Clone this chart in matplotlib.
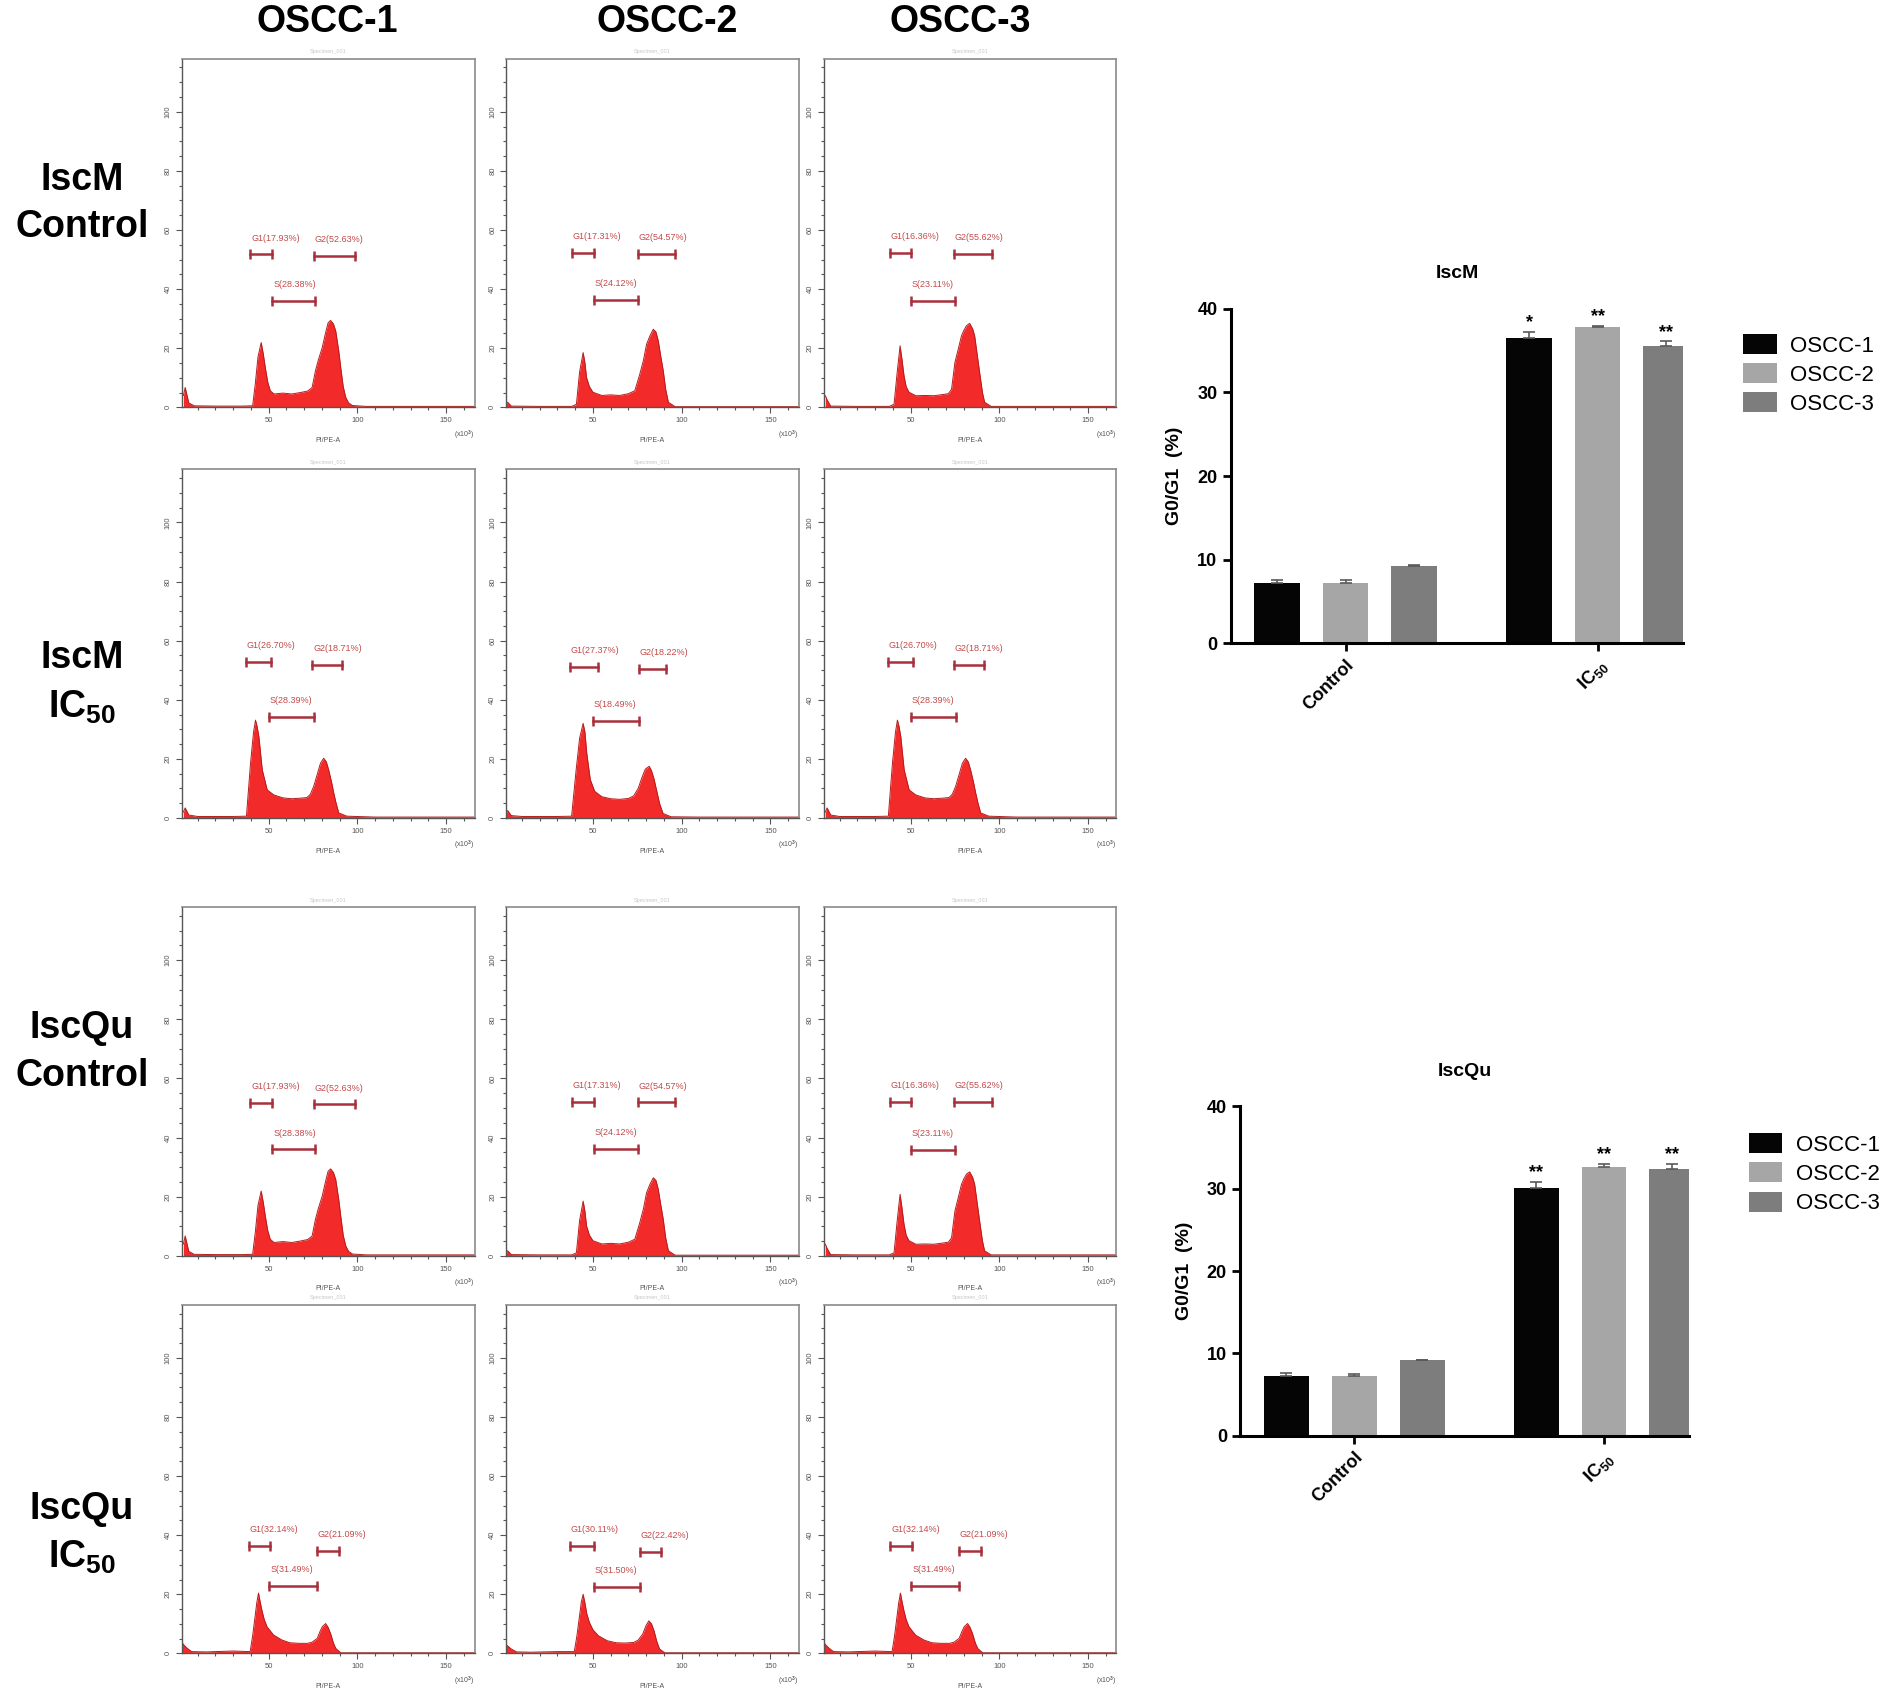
import matplotlib
matplotlib.use("Agg")
import matplotlib.pyplot as plt
from matplotlib.ticker import MultipleLocator
from matplotlib.patches import Patch

plt.rcParams['font.family'] = ['Liberation Sans', 'DejaVu Sans']
plt.rcParams['mathtext.fontset'] = 'custom'
plt.rcParams['mathtext.rm'] = 'Liberation Sans:bold'
plt.rcParams['mathtext.bf'] = 'Liberation Sans:bold'
plt.rcParams['mathtext.default'] = 'rm'

# ---- histogram outlines (PI/PE-A x10^3, counts) ----
# IscM / IscQu control (rows 1 and 3 are the same images)
ctrl1_x = [2, 3, 5, 8, 20, 35, 41, 42.5, 44, 45.8, 47, 48.1, 49.5, 50.9, 53, 58, 63, 68, 72, 74.5,
           76.4, 78, 80.2, 82, 83.5, 84.9, 86.5, 87.8, 89.5, 90.6, 92, 93.4, 95, 97.2, 105, 130, 166]
ctrl1_y = [4, 6.7, 1.5, 0.5, 0.4, 0.4, 0.5, 8, 17, 21.9, 18, 13.5, 8.5, 5.6, 4.5, 4.8, 4.5, 5.0, 5.5, 6.7,
           12.4, 16, 20.2, 25, 28.6, 29.4, 28.2, 25.8, 19, 13.5, 7, 3.4, 1.5, 0.6, 0.3, 0.3, 0.3]
ctrl2_x = [1, 2, 4, 20, 38, 40.7, 42.5, 44.5, 45.5, 46.4, 48, 50, 55, 60, 65, 70, 73.6, 76.4, 78.5,
           80.2, 82, 84, 85.5, 86.8, 88, 89.6, 91, 92.5, 96.3, 110, 166]
ctrl2_y = [1, 1.7, 0.4, 0.3, 0.3, 1, 12, 18.5, 15, 10.1, 7, 5.1, 4.0, 4.2, 4.0, 4.6, 5.6, 11.2, 16,
           21.3, 24, 26.4, 25.5, 22.5, 18, 12.4, 6, 1.7, 0.2, 0.2, 0.2]
ctrl3_x = [2, 3, 5, 20, 38, 40.7, 42.5, 44.1, 45.2, 46.3, 47.5, 49.1, 53, 58, 63, 68, 71.3, 73.1, 75,
           77, 78.7, 80, 81.5, 83.3, 85, 86.1, 87.5, 88.9, 90.5, 91.7, 95.4, 110, 166]
ctrl3_y = [3.9, 2.5, 0.4, 0.3, 0.3, 1, 12, 20.8, 16, 10.7, 7, 5.1, 3.9, 4.0, 3.9, 4.3, 4.6, 6.1, 15.2,
           20, 24.2, 26, 27.6, 28.4, 26.5, 24.2, 18, 11.8, 5, 1.7, 0.3, 0.3, 0.3]
# IscM IC50 (OSCC-3 panel is the same image as OSCC-1)
ic1_x = [2, 3, 5, 10, 30, 37.5, 39.8, 41.5, 42.6, 43.5, 44.5, 46.4, 49.2, 52.9, 58, 63, 68, 71.6, 73.5,
         75.4, 77.5, 79.2, 81, 82.5, 83.8, 85.5, 86.7, 88, 89.5, 94.1, 110, 166]
ic1_y = [2, 3.4, 1, 0.5, 0.5, 0.6, 18.5, 29, 33.1, 31, 27.5, 16.3, 9.5, 7.8, 6.8, 6.5, 6.7, 6.9, 8,
         10.7, 15, 18.5, 20.2, 19, 16.3, 12, 8.4, 5, 1.7, 0.6, 0.3, 0.3]
ic2_x = [1, 2, 4, 10, 30, 38, 40.5, 42.5, 44.5, 45.5, 46.5, 48.5, 51, 55, 60, 65, 70, 73, 75.5, 77.5,
         79.5, 81.7, 83, 84.5, 86, 87.5, 89.5, 94, 110, 166]
ic2_y = [1.5, 2.5, 0.8, 0.5, 0.5, 0.6, 16, 27, 32, 29, 22, 13, 9, 7.2, 6.5, 6.3, 6.6, 7.5, 10, 13.5,
         16.5, 17.5, 16, 13, 9, 5, 1.5, 0.4, 0.3, 0.3]
# IscQu IC50 (OSCC-3 panel is the same image as OSCC-1)
qu1_x = [1, 2, 4, 6.6, 15, 30, 39.6, 41, 42.1, 43.3, 44.3, 45.2, 46.2, 47.5, 49.1, 52.8, 57.6, 62, 67,
         72, 74.5, 77.4, 79, 80.2, 82.1, 83.5, 84.9, 86.5, 87.8, 90.6, 110, 166]
qu1_y = [3.9, 3, 1.8, 0.6, 0.5, 0.8, 0.6, 6, 11.2, 17, 20.4, 17.5, 14.6, 11.5, 9.0, 6.2, 4.5, 3.6, 3.4,
         3.4, 3.8, 5.1, 7.5, 9.0, 10.1, 8.8, 6.7, 3.5, 1.7, 0.2, 0.2, 0.2]
qu2_x = [1, 2, 4, 7, 15, 30, 39.5, 41, 42.3, 43.5, 44.5, 45.5, 46.5, 48, 50, 53, 58, 63, 68, 73, 75.5,
         78, 80, 81.5, 83, 84.5, 86, 87.5, 90.5, 110, 166]
qu2_y = [3, 2.5, 1.5, 0.5, 0.4, 0.6, 0.6, 6, 12, 17.5, 20, 17, 13.5, 10.5, 8, 6, 4.3, 3.6, 3.5, 3.7, 4.5,
         6.5, 9.5, 11, 10, 7.5, 4, 1.5, 0.2, 0.2, 0.2]

# gates (x start, x end, height) for G1, S, G2
ctrl_gates = [[(39.6, 52.0, 51.7), (52.0, 76.1, 36.0), (75.5, 98.7, 51.2)],
              [(38.2, 50.5, 52.2), (50.4, 75.2, 36.2), (75.2, 96.0, 51.9)],
              [(38.3, 50.4, 52.2), (50.0, 75.0, 35.9), (74.4, 95.7, 52.0)]]
ic_gates = [[(37.1, 51.2, 52.8), (50.0, 75.4, 34.2), (74.5, 91.4, 51.7)],
            [(37.0, 52.6, 51.0), (49.9, 75.7, 32.8), (75.7, 91.3, 50.4)],
            [(37.1, 51.2, 52.8), (50.0, 75.4, 34.2), (74.5, 91.4, 51.7)]]
qu_gates = [[(38.7, 51.0, 36.5), (50.4, 77.4, 22.7), (77.2, 89.7, 34.8)],
            [(37.0, 50.6, 36.5), (50.6, 76.4, 22.5), (76.4, 88.6, 34.4)],
            [(38.7, 51.0, 36.5), (50.4, 77.4, 22.7), (77.2, 89.7, 34.8)]]

ctrl_labels = [["G1(17.93%)", "S(28.38%)", "G2(52.63%)"],
               ["G1(17.31%)", "S(24.12%)", "G2(54.57%)"],
               ["G1(16.36%)", "S(23.11%)", "G2(55.62%)"]]
ic_labels = [["G1(26.70%)", "S(28.39%)", "G2(18.71%)"],
             ["G1(27.37%)", "S(18.49%)", "G2(18.22%)"],
             ["G1(26.70%)", "S(28.39%)", "G2(18.71%)"]]
qu_labels = [["G1(32.14%)", "S(31.49%)", "G2(21.09%)"],
             ["G1(30.11%)", "S(31.50%)", "G2(22.42%)"],
             ["G1(32.14%)", "S(31.49%)", "G2(21.09%)"]]

col_titles = ["OSCC-1", "OSCC-2", "OSCC-3"]
row_titles = [("IscM", "Control"), ("IscM", "IC$_{50}$"), ("IscQu", "Control"), ("IscQu", "IC$_{50}$")]

# ---- bar chart data: G0/G1 (%) ----
groups = ["Control", "IC$_{50}$"]
cell_lines = ["OSCC-1", "OSCC-2", "OSCC-3"]
iscm_ctrl = [7.2, 7.2, 9.2]
iscm_ctrl_err = [0.4, 0.4, 0.2]
iscm_ic50 = [36.5, 37.8, 35.5]
iscm_ic50_err = [0.7, 0.2, 0.6]
iscm_stars = ["*", "**", "**"]
iscqu_ctrl = [7.2, 7.2, 9.2]
iscqu_ctrl_err = [0.4, 0.3, 0.05]
iscqu_ic50 = [30.1, 32.7, 32.4]
iscqu_ic50_err = [0.7, 0.3, 0.6]
iscqu_stars = ["**", "**", "**"]

HIST_RED = '#f22a2a'
HIST_EDGE = '#b51b1b'
GATE_C = '#a8303c'
GATE_TXT = '#c24a4a'
BAR_COLORS = ['#050505', '#a6a6a6', '#7d7d7d']

fig = plt.figure(figsize=(19.02, 16.97), dpi=100)

col_left = [0.0955, 0.266, 0.433]
col_w = 0.154
row_bottom = [0.760, 0.518, 0.260, 0.0257]
row_h = 0.2055

panels = [
    [(ctrl1_x, ctrl1_y), (ctrl2_x, ctrl2_y), (ctrl3_x, ctrl3_y)],
    [(ic1_x, ic1_y), (ic2_x, ic2_y), (ic1_x, ic1_y)],
    [(ctrl1_x, ctrl1_y), (ctrl2_x, ctrl2_y), (ctrl3_x, ctrl3_y)],
    [(qu1_x, qu1_y), (qu2_x, qu2_y), (qu1_x, qu1_y)],
]
row_gates = [ctrl_gates, ic_gates, ctrl_gates, qu_gates]
row_labels = [ctrl_labels, ic_labels, ctrl_labels, qu_labels]

for r in range(4):
    for c in range(3):
        ax = fig.add_axes([col_left[c], row_bottom[r], col_w, row_h])
        xs, ys = panels[r][c]
        ax.fill_between(xs, ys, color=HIST_RED, lw=0)
        ax.plot(xs, ys, color=HIST_EDGE, lw=0.7)
        for (x0, x1, gy), lab in zip(row_gates[r][c], row_labels[r][c]):
            ax.plot([x0, x1], [gy, gy], color=GATE_C, lw=1.8, marker='|', ms=7, mew=1.8)
            ax.text(x0 + 0.5, gy + 4, lab, fontsize=6.5, color=GATE_TXT, ha='left', va='bottom')
        ax.set_xlim(1, 166)
        ax.set_ylim(0, 118)
        ax.set_xticks([50, 100, 150])
        ax.set_yticks([0, 20, 40, 60, 80, 100])
        ax.xaxis.set_minor_locator(MultipleLocator(10))
        ax.yaxis.set_minor_locator(MultipleLocator(5))
        ax.tick_params(which='both', direction='out', labelsize=5.5, colors='#555555',
                       width=0.8, pad=3)
        ax.tick_params(which='major', length=4)
        ax.tick_params(which='minor', length=2.5)
        for lab in ax.get_yticklabels():
            lab.set_rotation(90)
            lab.set_va('center')
        for side in ['top', 'right']:
            ax.spines[side].set_color('#8a8a8a')
            ax.spines[side].set_linewidth(1.2)
        for side in ['left', 'bottom']:
            ax.spines[side].set_color('#555555')
            ax.spines[side].set_linewidth(1.0)
        ax.text(0.5, -0.085, "PI/PE-A", transform=ax.transAxes, fontsize=5,
                color='#555555', ha='center', va='top')
        ax.text(1.0, -0.06, "(x10$^3$)", transform=ax.transAxes, fontsize=5,
                color='#555555', ha='right', va='top')
        ax.text(0.5, 1.012, "Specimen_001", transform=ax.transAxes, fontsize=4,
                color='#c8c8c8', ha='center', va='bottom')

# column and row titles
col_x = [0.172, 0.351, 0.505]
for cx, t in zip(col_x, col_titles):
    fig.text(cx, 0.987, t, fontsize=27, fontweight='bold', ha='center', va='center')

row_y = [(0.894, 0.866), (0.612, 0.583), (0.394, 0.366), (0.111, 0.082)]
for (t1, t2), (y1, y2) in zip(row_titles, row_y):
    fig.text(0.043, y1, t1, fontsize=27, fontweight='bold', ha='center', va='center')
    fig.text(0.043, y2, t2, fontsize=27, fontweight='bold', ha='center', va='center')


def bar_panel(rect, title, ctrl, ctrl_err, ic50, ic50_err, stars, legend_anchor):
    ax = fig.add_axes(rect)
    centers = [0, 1]
    offsets = [-0.272, 0.0, 0.272]
    for i in range(3):
        pos = [centers[0] + offsets[i], centers[1] + offsets[i]]
        vals = [ctrl[i], ic50[i]]
        errs = [ctrl_err[i], ic50_err[i]]
        ax.bar(pos, vals, width=0.18, color=BAR_COLORS[i], zorder=2)
        ax.errorbar(pos, vals, yerr=[[0, 0], errs], fmt='none', ecolor='#5a5a5a',
                    elinewidth=1.2, capsize=4, capthick=1.2, zorder=3)
        ax.text(pos[1], vals[1] + errs[1] + 0.1, stars[i], ha='center', va='bottom',
                fontsize=13, fontweight='bold')
    ax.set_xlim(-0.456, 1.34)
    ax.set_ylim(0, 40)
    ax.set_yticks([0, 10, 20, 30, 40])
    ax.set_xticks(centers)
    ax.set_xticklabels(groups, rotation=45, ha='right', rotation_mode='anchor',
                       fontsize=13, fontweight='bold')
    for lab in ax.get_yticklabels():
        lab.set_fontweight('bold')
    ax.tick_params(axis='y', labelsize=13, width=2, length=6)
    ax.tick_params(axis='x', width=2, length=6)
    for side in ['top', 'right']:
        ax.spines[side].set_visible(False)
    for side in ['left', 'bottom']:
        ax.spines[side].set_linewidth(2.2)
    ax.set_ylabel("G0/G1  (%)", fontsize=14, fontweight='bold', labelpad=10)
    ax.set_title(title, fontsize=14, fontweight='bold', pad=22)
    handles = [Patch(facecolor=BAR_COLORS[i], edgecolor='none') for i in range(3)]
    fig.legend(handles, cell_lines, loc='upper left', bbox_to_anchor=legend_anchor,
               frameon=False, fontsize=16, handlelength=1.5, handleheight=1.0,
               labelspacing=0.3, handletextpad=0.6)


bar_panel([0.647, 0.621, 0.238, 0.197], "IscM", iscm_ctrl, iscm_ctrl_err,
          iscm_ic50, iscm_ic50_err, iscm_stars, (0.906, 0.815))
bar_panel([0.652, 0.154, 0.236, 0.194], "IscQu", iscqu_ctrl, iscqu_ctrl_err,
          iscqu_ic50, iscqu_ic50_err, iscqu_stars, (0.909, 0.344))

fig.savefig("out.png", dpi=100, facecolor='white')
